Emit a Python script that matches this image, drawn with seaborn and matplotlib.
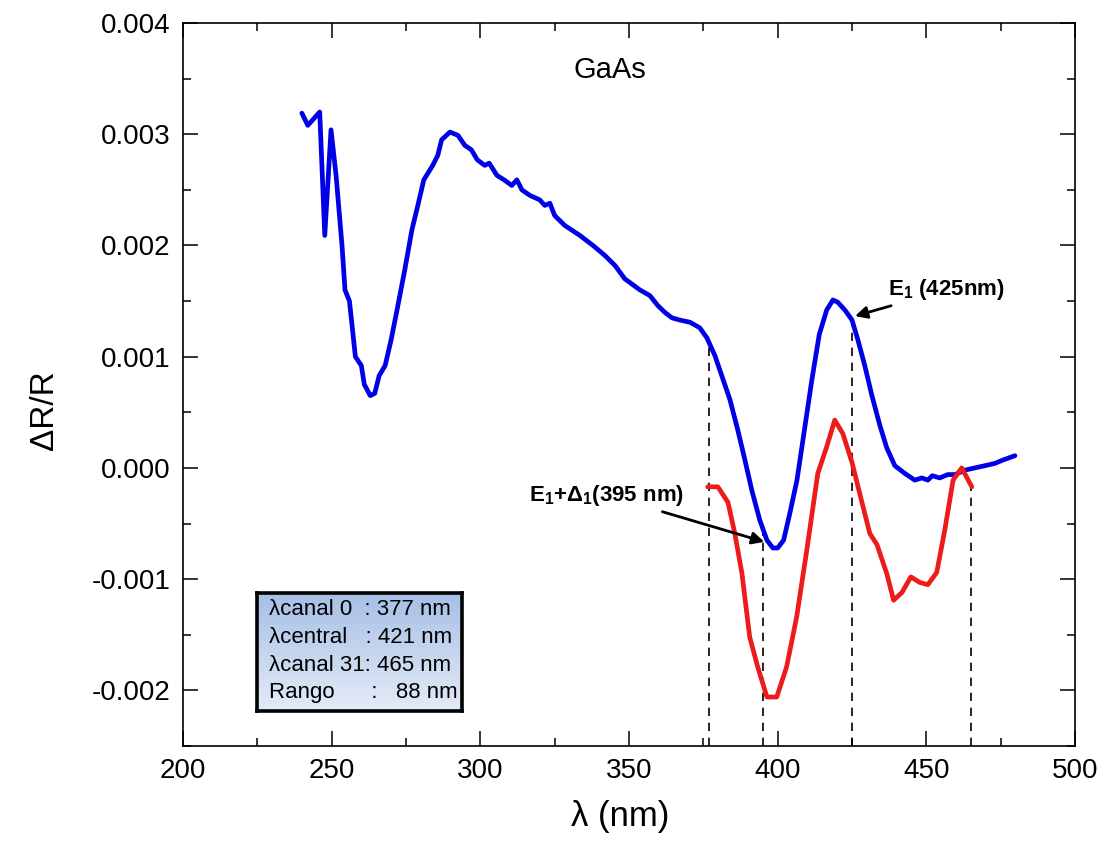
import numpy as np
import pandas as pd
import matplotlib
matplotlib.use("Agg")
import matplotlib.pyplot as plt
import seaborn as sns
from matplotlib.ticker import MultipleLocator, FuncFormatter
from matplotlib.colors import LinearSegmentedColormap

# ---- data ----
blue_nm = [240.0, 242.0, 246.0, 247.7, 249.8, 251.5, 253.5, 254.5, 256.0, 258.0, 260.0, 261.0,
           263.0, 264.5, 266.0, 268.0, 270.0, 272.0, 274.6, 277.0, 279.0, 281.0, 284.0, 285.7,
           287.0, 289.8, 292.5, 294.8, 297.0, 299.0, 301.5, 303.0, 305.6, 308.0, 310.6, 312.3,
           314.0, 316.7, 320.0, 321.7, 323.4, 325.0, 328.4, 333.5, 337.9, 341.9, 345.3, 348.6,
           353.7, 357.0, 359.7, 362.0, 364.4, 367.0, 370.5, 373.8, 376.2, 378.9, 381.2, 384.0,
           386.6, 389.0, 391.3, 394.0, 396.4, 398.4, 400.0, 402.0, 404.0, 406.5, 409.0, 411.5,
           414.0, 416.5, 418.6, 420.2, 422.6, 425.0, 427.0, 429.3, 431.7, 434.4, 436.7, 439.4,
           442.8, 446.1, 448.5, 450.5, 452.0, 454.5, 457.2, 459.6, 463.0, 466.3, 469.7, 473.0,
           475.7, 479.8]
blue_val = [3.19, 3.08, 3.20, 2.09, 3.04, 2.63, 2.00, 1.60, 1.50, 1.00, 0.92, 0.75,
            0.65, 0.67, 0.83, 0.92, 1.15, 1.42, 1.78, 2.14, 2.36, 2.59, 2.72, 2.81,
            2.95, 3.02, 2.99, 2.90, 2.86, 2.77, 2.72, 2.74, 2.63, 2.59, 2.54, 2.59,
            2.50, 2.45, 2.41, 2.36, 2.38, 2.27, 2.18, 2.09, 2.00, 1.91, 1.82, 1.70,
            1.60, 1.55, 1.46, 1.40, 1.35, 1.33, 1.31, 1.26, 1.17, 1.01, 0.83, 0.61,
            0.34, 0.07, -0.20, -0.47, -0.65, -0.72, -0.72, -0.65, -0.42, -0.11, 0.34, 0.79,
            1.20, 1.42, 1.51, 1.49, 1.42, 1.33, 1.15, 0.92, 0.65, 0.38, 0.18, 0.02,
            -0.05, -0.11, -0.09, -0.11, -0.07, -0.09, -0.06, -0.06, -0.02, 0.00, 0.02, 0.04,
            0.07, 0.11]
red_nm = [376.5, 379.9, 383.3, 385.6, 388.0, 390.6, 393.3, 396.4, 399.7, 403.0, 406.4, 409.8,
          413.5, 416.5, 419.2, 421.9, 425.0, 427.6, 431.0, 433.4, 436.7, 439.0, 441.8, 444.8,
          447.8, 450.5, 453.5, 456.2, 459.0, 461.9, 465.3]
red_val = [-0.17, -0.17, -0.31, -0.59, -0.95, -1.52, -1.79, -2.06, -2.06, -1.79, -1.34, -0.74,
           -0.05, 0.19, 0.43, 0.31, 0.05, -0.23, -0.59, -0.69, -0.95, -1.19, -1.12, -0.98,
           -1.03, -1.05, -0.94, -0.56, -0.11, 0.00, -0.17]
marker_nm = [377, 395, 425, 465]
marker_curve = ["blue", "blue", "blue", "red"]
box_lines = ["λcanal 0  : 377 nm", "λcentral   : 421 nm", "λcanal 31: 465 nm", "Rango      :   88 nm"]

blue_val = [v * 1e-3 for v in blue_val]
red_val = [v * 1e-3 for v in red_val]

sns.set_style("ticks")
plt.rcParams['font.family'] = ['Liberation Sans', 'DejaVu Sans']
plt.rcParams['axes.unicode_minus'] = False
plt.rcParams['mathtext.default'] = 'regular'
plt.rcParams['text.color'] = 'black'
plt.rcParams['axes.labelcolor'] = 'black'
plt.rcParams['xtick.color'] = 'black'
plt.rcParams['ytick.color'] = 'black'

fig = plt.figure(figsize=(11.02, 8.47), dpi=100)
ax = fig.add_axes([0.166, 0.1193, 0.8095, 0.8535])

df_b = pd.DataFrame({"nm": blue_nm, "v": blue_val})
df_r = pd.DataFrame({"nm": red_nm, "v": red_val})
sns.lineplot(data=df_b, x="nm", y="v", color="#0000e6", lw=3.4, ax=ax, sort=False, zorder=3)
sns.lineplot(data=df_r, x="nm", y="v", color="#ee1b1b", lw=3.4, ax=ax, sort=False, zorder=3)

ax.set_xlim(200, 500)
ax.set_ylim(-0.0025, 0.004)

# dashed markers from the bottom up to the curve
for nm, c in zip(marker_nm, marker_curve):
    top = np.interp(nm, blue_nm, blue_val) if c == "blue" else np.interp(nm, red_nm, red_val)
    ax.vlines(nm, -0.0025, top, colors="black", linestyles=(0, (5, 4)), lw=1.2, zorder=2)

ax.xaxis.set_major_locator(MultipleLocator(50))
ax.xaxis.set_minor_locator(MultipleLocator(25))
ax.yaxis.set_major_locator(MultipleLocator(0.001))
ax.yaxis.set_minor_locator(MultipleLocator(0.0005))
ax.yaxis.set_major_formatter(FuncFormatter(lambda v, p: "%.3f" % v))
ax.tick_params(which="both", direction="in", top=True, right=True, width=1.1, colors="black")
ax.tick_params(which="major", length=11, labelsize=20, pad=9)
ax.tick_params(which="minor", length=6)
for s in ax.spines.values():
    s.set_linewidth(1.2)
    s.set_color("black")

ax.set_xlabel("λ (nm)", fontsize=25)
ax.set_ylabel("ΔR/R", fontsize=24)
ax.xaxis.set_label_coords(0.49, -0.075)
ax.yaxis.set_label_coords(-0.138, 0.465)

ax.text(343.6, 0.00358, "GaAs", fontsize=21, ha="center", va="center")

ax.annotate(r"E$_1$ (425nm)", xy=(426.0, 0.001365), xytext=(437.1, 0.00160),
            fontsize=16, fontweight="bold", ha="left", va="center",
            arrowprops=dict(arrowstyle="-|>", color="black", lw=2.0, mutation_scale=18,
                            shrinkA=0, shrinkB=0))
ax.annotate(r"E$_1$+Δ$_1$(395 nm)", xy=(395.5, -0.000665), xytext=(368.5, -0.000245),
            fontsize=16, fontweight="bold", ha="right", va="center",
            arrowprops=dict(arrowstyle="-|>", color="black", lw=2.0, mutation_scale=18,
                            shrinkA=2, shrinkB=0))

# info box with gradient fill
bx = ax.inset_axes([0.083, 0.0484, 0.23, 0.163])
grad = np.linspace(0, 1, 256).reshape(-1, 1)
cmap = LinearSegmentedColormap.from_list("g", ["#a6bfe6", "#e4ebf7"])
bx.imshow(grad, cmap=cmap, aspect="auto", extent=[0, 1, 0, 1], origin="upper")
bx.set_xlim(0, 1)
bx.set_ylim(0, 1)
bx.set_xticks([])
bx.set_yticks([])
for s in bx.spines.values():
    s.set_linewidth(2.6)
    s.set_color("black")
for i, line in enumerate(box_lines):
    bx.text(0.06, 0.86 - i * 0.235, line, fontsize=16, ha="left", va="center",
            transform=bx.transAxes)

fig.savefig("out.png", dpi=100)
